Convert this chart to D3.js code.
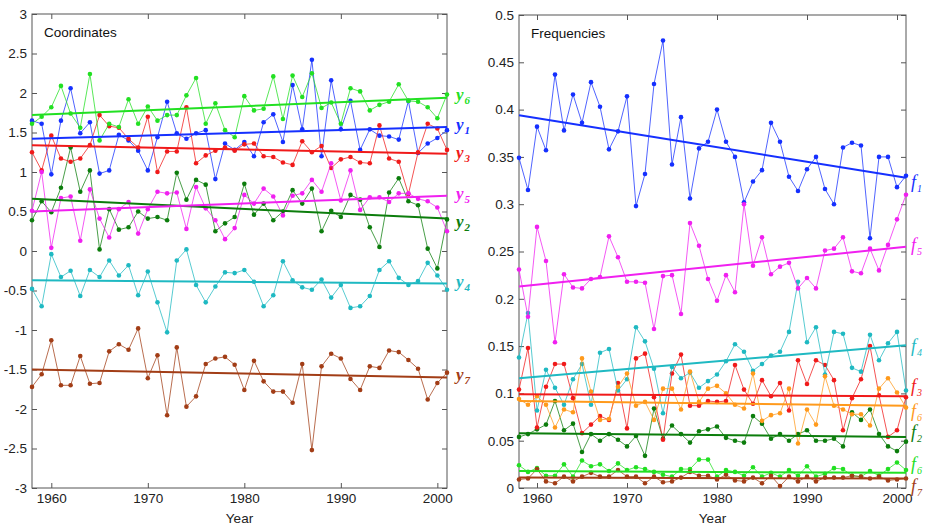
<!DOCTYPE html>
<html>
<head>
<meta charset="utf-8">
<script src="https://cdn.jsdelivr.net/npm/d3@7"></script>
<style>
  body { margin: 0; background: #fff; }
  svg { display: block; }
  .tick text { font-family: "Liberation Sans", Arial, sans-serif; font-size: 13.5px; fill: #222; }
</style>
</head>
<body>
<svg id="chart" width="930" height="527"></svg>
<script>
// ---- data ----
const years = [1958,1959,1960,1961,1962,1963,1964,1965,1966,1967,1968,1969,1970,1971,1972,1973,1974,1975,1976,1977,
  1978,1979,1980,1981,1982,1983,1984,1985,1986,1987,1988,1989,1990,1991,1992,1993,1994,1995,1996,1997,1998,1999,2000,2001];

const yearTicks = [1960, 1970, 1980, 1990, 2000];
const coordTicks = [-3, -2.5, -2, -1.5, -1, -0.5, 0, 0.5, 1, 1.5, 2, 2.5, 3];
const freqTicks = [0, 0.05, 0.1, 0.15, 0.2, 0.25, 0.3, 0.35, 0.4, 0.45, 0.5];

// coordinates y1..y7
const y1 = [1.65,1.61,0.97,1.65,2.06,1.49,1.63,0.98,1.02,1.47,1.40,1.27,1.02,1.44,1.89,1.49,1.42,1.49,1.53,0.91,
  1.36,1.28,1.38,1.20,1.63,1.73,1.38,2.10,1.54,2.42,1.20,2.16,1.54,1.90,1.28,1.54,1.46,1.45,1.41,1.90,1.24,1.36,1.43,1.53];
const y2 = [0.39,0.63,0.49,0.80,1.31,0.75,1.02,0.02,0.53,0.27,0.30,0.50,0.41,0.43,0.39,0.99,0.65,0.90,0.84,0.25,
  0.35,0.43,0.85,0.46,0.60,0.39,0.50,0.77,0.60,0.79,0.25,0.51,0.43,0.71,0.65,0.30,0.05,0.74,0.92,0.63,0.58,0.03,-0.22,0.40];
const y3 = [1.25,1.02,1.46,1.17,1.13,1.17,1.34,1.72,1.58,1.56,1.42,1.31,1.70,1.00,1.26,1.26,1.82,1.11,1.21,1.27,
  1.31,1.27,1.35,1.36,1.20,1.19,1.12,1.09,1.39,1.25,1.33,1.05,1.16,1.19,1.12,1.11,1.59,1.17,1.13,0.72,1.25,1.61,1.55,1.28];
const y4 = [-0.48,-0.70,-0.04,-0.33,-0.25,-0.57,-0.24,-0.33,-0.12,-0.31,-0.18,-0.56,-0.26,-0.65,-1.03,-0.12,0.02,-0.43,-0.65,-0.45,
  -0.27,-0.28,-0.24,-0.39,-0.70,-0.56,-0.13,-0.37,-0.46,-0.49,-0.36,-0.59,-0.43,-0.72,-0.70,-0.57,-0.24,-0.13,-0.34,-0.43,-0.38,-0.15,-0.31,-0.49];
const y5 = [0.51,1.00,0.04,0.67,0.69,0.13,0.78,0.41,0.17,0.53,0.62,0.22,0.53,0.75,0.73,0.74,0.28,0.81,0.54,0.39,
  0.15,0.29,0.71,0.60,0.79,0.69,0.45,0.70,0.73,0.90,0.75,1.11,0.64,1.02,0.52,0.68,0.68,0.62,0.73,0.73,0.66,0.63,0.55,0.25];
const y6 = [1.61,1.70,1.82,2.09,1.74,1.56,2.24,1.40,1.61,1.57,1.92,1.61,1.83,1.65,1.72,1.72,1.97,2.19,1.61,1.87,
  1.53,1.44,1.96,1.78,1.80,2.21,1.67,2.22,1.95,2.25,1.81,1.88,1.61,2.06,2.02,1.78,1.85,1.89,2.11,1.90,1.89,1.82,1.68,1.98];
const y7 = [-1.72,-1.56,-1.13,-1.70,-1.70,-1.33,-1.68,-1.67,-1.27,-1.18,-1.25,-0.98,-1.61,-1.32,-2.08,-1.22,-1.97,-1.84,-1.43,-1.36,
  -1.34,-1.44,-1.76,-1.39,-1.65,-1.78,-1.78,-1.92,-1.43,-2.52,-1.46,-1.30,-1.36,-1.62,-1.76,-1.46,-1.48,-1.26,-1.28,-1.38,-1.49,-1.88,-1.67,-1.54];

// linear trends (value in 1958, value in 2001)
const y1Trend = [1.42, 1.57];
const y2Trend = [0.66, 0.41];
const y3Trend = [1.34, 1.23];
const y4Trend = [-0.37, -0.41];
const y5Trend = [0.50, 0.70];
const y6Trend = [1.72, 1.94];
const y7Trend = [-1.50, -1.60];

// frequencies f1..f7 and the second f6 series
const f1 = [0.349,0.315,0.382,0.357,0.437,0.378,0.416,0.386,0.429,0.403,0.358,0.377,0.414,0.298,0.332,0.427,0.473,0.342,0.392,0.306,
  0.359,0.366,0.400,0.366,0.350,0.302,0.324,0.336,0.386,0.366,0.329,0.314,0.337,0.350,0.316,0.300,0.360,0.365,0.362,0.264,0.350,0.350,0.318,0.330];
const f5 = [0.231,0.181,0.276,0.240,0.154,0.226,0.212,0.211,0.221,0.223,0.266,0.244,0.218,0.218,0.217,0.168,0.224,0.225,0.184,0.280,
  0.256,0.221,0.198,0.225,0.207,0.300,0.235,0.265,0.226,0.234,0.238,0.211,0.222,0.211,0.251,0.253,0.265,0.229,0.227,0.253,0.230,0.257,0.284,0.310];
const f4 = [0.138,0.185,0.082,0.125,0.106,0.088,0.115,0.131,0.088,0.143,0.147,0.103,0.115,0.170,0.155,0.126,0.079,0.128,0.116,0.122,
  0.106,0.113,0.120,0.134,0.152,0.144,0.124,0.131,0.140,0.144,0.165,0.218,0.154,0.170,0.120,0.165,0.163,0.127,0.123,0.162,0.135,0.153,0.165,0.103];
const f3 = [0.104,0.148,0.064,0.107,0.131,0.131,0.095,0.058,0.067,0.076,0.072,0.111,0.063,0.137,0.142,0.096,0.051,0.121,0.141,0.087,
  0.087,0.092,0.091,0.092,0.130,0.104,0.089,0.114,0.097,0.111,0.082,0.135,0.110,0.135,0.130,0.114,0.061,0.095,0.115,0.150,0.098,0.054,0.061,0.096];
const f6 = [0.094,0.088,0.097,0.088,0.064,0.083,0.080,0.137,0.102,0.072,0.073,0.107,0.121,0.087,0.091,0.072,0.105,0.105,0.083,0.123,
  0.091,0.105,0.108,0.100,0.088,0.084,0.121,0.071,0.077,0.079,0.105,0.047,0.083,0.067,0.118,0.087,0.083,0.078,0.078,0.066,0.105,0.116,0.101,0.085];
const f2 = [0.054,0.057,0.062,0.067,0.092,0.061,0.068,0.038,0.057,0.050,0.057,0.051,0.044,0.055,0.034,0.084,0.052,0.066,0.057,0.048,
  0.060,0.062,0.065,0.053,0.050,0.048,0.076,0.068,0.052,0.057,0.050,0.057,0.061,0.050,0.050,0.052,0.044,0.080,0.072,0.083,0.057,0.044,0.039,0.049];
const f6b = [0.024,0.017,0.021,0.013,0.013,0.025,0.012,0.029,0.023,0.025,0.018,0.026,0.019,0.022,0.020,0.017,0.014,0.012,0.020,0.020,
  0.030,0.030,0.012,0.019,0.017,0.013,0.022,0.012,0.016,0.012,0.019,0.013,0.023,0.012,0.015,0.021,0.020,0.013,0.012,0.018,0.013,0.020,0.027,0.019];
const f7 = [0.009,0.010,0.020,0.007,0.005,0.012,0.007,0.012,0.016,0.012,0.012,0.019,0.012,0.012,0.005,0.012,0.006,0.007,0.011,0.017,
  0.013,0.013,0.009,0.014,0.008,0.007,0.011,0.005,0.013,0.002,0.012,0.007,0.012,0.007,0.011,0.011,0.011,0.013,0.012,0.010,0.012,0.008,0.009,0.010];

const f1Trend = [0.394, 0.328];
const f5Trend = [0.213, 0.255];
const f4Trend = [0.116, 0.151];
const f3Trend = [0.099, 0.097];
const f6Trend = [0.092, 0.087];
const f2Trend = [0.058, 0.054];
const f6bTrend = [0.018, 0.016];
const f7Trend = [0.011, 0.010];

// ---- styling ----
const C = {
  blue: "#1530ff", red: "#f01a1a", green: "#22e022", dkgreen: "#0c7d0c",
  magenta: "#f020f0", cyan: "#1fb9c2", brown: "#a23d16", orange: "#ff9a1c"
};

// nudge: vertical shift (px) of each end label from its trend line's end
const coordSeries = [
  { letter: "y", sub: "1", values: y1, trend: y1Trend, color: C.blue,    nudge: 3 },
  { letter: "y", sub: "2", values: y2, trend: y2Trend, color: C.dkgreen, nudge: 8 },
  { letter: "y", sub: "3", values: y3, trend: y3Trend, color: C.red,     nudge: 4 },
  { letter: "y", sub: "4", values: y4, trend: y4Trend, color: C.cyan,    nudge: 4 },
  { letter: "y", sub: "5", values: y5, trend: y5Trend, color: C.magenta, nudge: 3 },
  { letter: "y", sub: "6", values: y6, trend: y6Trend, color: C.green,   nudge: 2 },
  { letter: "y", sub: "7", values: y7, trend: y7Trend, color: C.brown,   nudge: 3 }
];

const freqSeries = [
  { letter: "f", sub: "1", values: f1,  trend: f1Trend,  color: C.blue,    nudge: 10 },
  { letter: "f", sub: "2", values: f2,  trend: f2Trend,  color: C.dkgreen, nudge: 1 },
  { letter: "f", sub: "3", values: f3,  trend: f3Trend,  color: C.red,     nudge: -4 },
  { letter: "f", sub: "4", values: f4,  trend: f4Trend,  color: C.cyan,    nudge: 7 },
  { letter: "f", sub: "5", values: f5,  trend: f5Trend,  color: C.magenta, nudge: 4 },
  { letter: "f", sub: "6", values: f6,  trend: f6Trend,  color: C.orange,  nudge: 11 },
  { letter: "f", sub: "6", values: f6b, trend: f6bTrend, color: C.green,   nudge: -3 },
  { letter: "f", sub: "7", values: f7,  trend: f7Trend,  color: C.brown,   nudge: 13 }
];

const svg = d3.select("#chart");
svg.append("rect").attr("width", 930).attr("height", 527).attr("fill", "#fff");

const fmt = d => (d < 0 ? "-" + String(-d) : String(d));

function drawPanel(cfg) {
  const g = svg.append("g");
  const x = d3.scaleLinear().domain([years[0], years[years.length - 1]]).range([cfg.left, cfg.right]);
  const y = d3.scaleLinear().domain(cfg.domain).range([cfg.bottom, cfg.top]);

  // axes with inward ticks on all four sides
  const axes = [
    { axis: d3.axisBottom(x).tickValues(yearTicks).tickFormat(d3.format("d")), t: `translate(0,${cfg.bottom})`, labels: true },
    { axis: d3.axisTop(x).tickValues(yearTicks), t: `translate(0,${cfg.top})`, labels: false },
    { axis: d3.axisLeft(y).tickValues(cfg.ticks).tickFormat(fmt), t: `translate(${cfg.left},0)`, labels: true },
    { axis: d3.axisRight(y).tickValues(cfg.ticks), t: `translate(${cfg.right},0)`, labels: false }
  ];
  axes.forEach(a => {
    const ag = g.append("g").attr("transform", a.t)
      .call(a.axis.tickSizeInner(-5).tickSizeOuter(0).tickPadding(5));
    ag.select(".domain").remove();
    ag.selectAll(".tick line").attr("stroke", "#555");
    if (!a.labels) ag.selectAll(".tick text").remove();
  });

  g.append("rect")
    .attr("x", cfg.left).attr("y", cfg.top)
    .attr("width", cfg.right - cfg.left).attr("height", cfg.bottom - cfg.top)
    .attr("fill", "none").attr("stroke", "#555").attr("stroke-width", 1);

  const line = d3.line().x((d, i) => x(years[i])).y(d => y(d));

  cfg.series.forEach(s => {
    g.append("path").datum(s.values)
      .attr("d", line).attr("fill", "none")
      .attr("stroke", s.color).attr("stroke-width", 1).attr("stroke-opacity", 0.75);
    g.append("g").selectAll("circle").data(s.values).join("circle")
      .attr("cx", (d, i) => x(years[i])).attr("cy", d => y(d))
      .attr("r", 2.3).attr("fill", s.color);
  });

  const x0 = years[0], x1 = years[years.length - 1];
  cfg.series.forEach(s => {
    g.append("line")
      .attr("x1", x(x0)).attr("y1", y(s.trend[0]))
      .attr("x2", x(x1)).attr("y2", y(s.trend[1]))
      .attr("stroke", s.color).attr("stroke-width", 2);

    const t = g.append("text")
      .attr("x", cfg.right + cfg.labelGap)
      .attr("y", y(s.trend[1]) + s.nudge)
      .attr("fill", s.color)
      .attr("font-family", "'Liberation Serif', 'Times New Roman', serif")
      .attr("font-style", "italic")
      .attr("font-weight", cfg.labelWeight);
    t.append("tspan").attr("font-size", cfg.labelSize).text(s.letter);
    t.append("tspan").attr("font-size", cfg.subSize).attr("dy", 4).attr("dx", 1).text(s.sub);
  });

  g.append("text")
    .attr("x", cfg.left + 12).attr("y", cfg.top + 23)
    .attr("font-family", "'Liberation Sans', Arial, sans-serif")
    .attr("font-size", 13.5).attr("fill", "#111")
    .text(cfg.title);

  g.append("text")
    .attr("x", (cfg.left + cfg.right) / 2).attr("y", 523)
    .attr("text-anchor", "middle")
    .attr("font-family", "'Liberation Sans', Arial, sans-serif")
    .attr("font-size", 13.5).attr("fill", "#222")
    .text("Year");
}

drawPanel({
  left: 32, right: 447, top: 14, bottom: 488,
  domain: [-3, 3], ticks: coordTicks, series: coordSeries,
  title: "Coordinates", labelGap: 9, labelSize: 17, subSize: 11, labelWeight: "bold"
});

drawPanel({
  left: 519, right: 906, top: 15, bottom: 488,
  domain: [0, 0.5], ticks: freqTicks, series: freqSeries,
  title: "Frequencies", labelGap: 5, labelSize: 18, subSize: 10, labelWeight: "normal"
});
</script>
</body>
</html>
